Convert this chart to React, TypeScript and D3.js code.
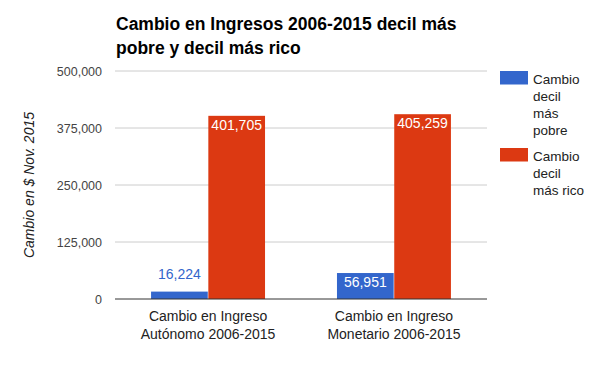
import * as d3 from "d3";

const categoryLines = [
  ["Cambio en Ingreso", "Autónomo 2006-2015"],
  ["Cambio en Ingreso", "Monetario 2006-2015"],
];
const seriesKeys = ["pobre", "rico"];
const seriesLegendLines = [
  ["Cambio", "decil", "más", "pobre"],
  ["Cambio", "decil", "más rico"],
];
const poorValues = [16224, 56951];
const richValues = [401705, 405259];
const yTicks = [0, 125000, 250000, 375000, 500000];
const titleLines = ["Cambio en Ingresos 2006-2015 decil más", "pobre y decil más rico"];
const yAxisTitle = "Cambio en $ Nov. 2015";

const colors = ["#3366cc", "#dc3912"];
const FONT = "Arial, 'Liberation Sans', sans-serif";

export default function App() {
  const width = 600;
  const height = 371;
  const margin = { top: 71, right: 113, bottom: 72, left: 115 };
  const plotW = width - margin.left - margin.right;
  const plotH = height - margin.top - margin.bottom;

  const x0 = d3.scaleBand<number>()
    .domain(categoryLines.map((_, i) => i))
    .range([0, plotW])
    .paddingInner(0.387)
    .paddingOuter(0.194);

  const x1 = d3.scaleBand<string>()
    .domain(seriesKeys)
    .range([0, x0.bandwidth()])
    .paddingInner(0.01);

  const y = d3.scaleLinear().domain([0, 500000]).range([plotH, 0]);
  const fmt = d3.format(",");
  const series = [poorValues, richValues];

  return (
    <svg
      width={width}
      height={height}
      style={{ position: "absolute", left: 0, top: 0, background: "#fff" }}
      fontFamily={FONT}
    >
      {/* title */}
      {titleLines.map((t, i) => (
        <text key={i} x={116} y={30 + i * 23.5} fontSize={17.5} fontWeight="bold" fill="#000">
          {t}
        </text>
      ))}

      <g transform={`translate(${margin.left},${margin.top})`}>
        {/* gridlines + tick labels */}
        {yTicks.map((t) => (
          <g key={t}>
            {t !== 0 && (
              <line x1={0} x2={plotW} y1={y(t)} y2={y(t)} stroke="#cccccc" strokeWidth={1} />
            )}
            <text x={-13} y={y(t) + 4.5} textAnchor="end" fontSize={12.5} fill="#444">
              {fmt(t)}
            </text>
          </g>
        ))}

        {/* bars */}
        {categoryLines.map((_, ci) => (
          <g key={ci} transform={`translate(${x0(ci)},0)`}>
            {seriesKeys.map((k, si) => {
              const v = series[si][ci];
              const bx = x1(k) ?? 0;
              const bw = x1.bandwidth();
              const by = y(v);
              const bh = plotH - by;
              const inside = bh > 20;
              return (
                <g key={k}>
                  <rect x={bx} y={by} width={bw} height={bh} fill={colors[si]} />
                  <text
                    x={bx + bw / 2}
                    y={inside ? by + 14 : by - 13}
                    textAnchor="middle"
                    fontSize={14}
                    fill={inside ? "#ffffff" : colors[si]}
                  >
                    {fmt(v)}
                  </text>
                </g>
              );
            })}
          </g>
        ))}

        {/* baseline */}
        <line x1={0} x2={plotW} y1={y(0)} y2={y(0)} stroke="#333333" strokeWidth={1} />

        {/* category labels */}
        {categoryLines.map((lines, ci) => (
          <text
            key={ci}
            x={(x0(ci) ?? 0) + x0.bandwidth() / 2}
            textAnchor="middle"
            fontSize={14}
            fill="#222"
          >
            {lines.map((l, li) => (
              <tspan key={li} x={(x0(ci) ?? 0) + x0.bandwidth() / 2} y={plotH + 22 + li * 18}>
                {l}
              </tspan>
            ))}
          </text>
        ))}
      </g>

      {/* y axis title */}
      <text
        transform={`translate(34,${margin.top + plotH / 2}) rotate(-90)`}
        textAnchor="middle"
        fontSize={14}
        fontStyle="italic"
        fill="#222"
      >
        {yAxisTitle}
      </text>

      {/* legend */}
      {seriesLegendLines.map((lines, si) => {
        const top = si === 0 ? 71 : 148;
        return (
          <g key={si}>
            <rect x={500} y={top} width={28} height={13.5} fill={colors[si]} />
            {lines.map((l, li) => (
              <text key={li} x={533} y={top + 12.5 + li * 17.3} fontSize={13.5} fill="#222">
                {l}
              </text>
            ))}
          </g>
        );
      })}
    </svg>
  );
}
